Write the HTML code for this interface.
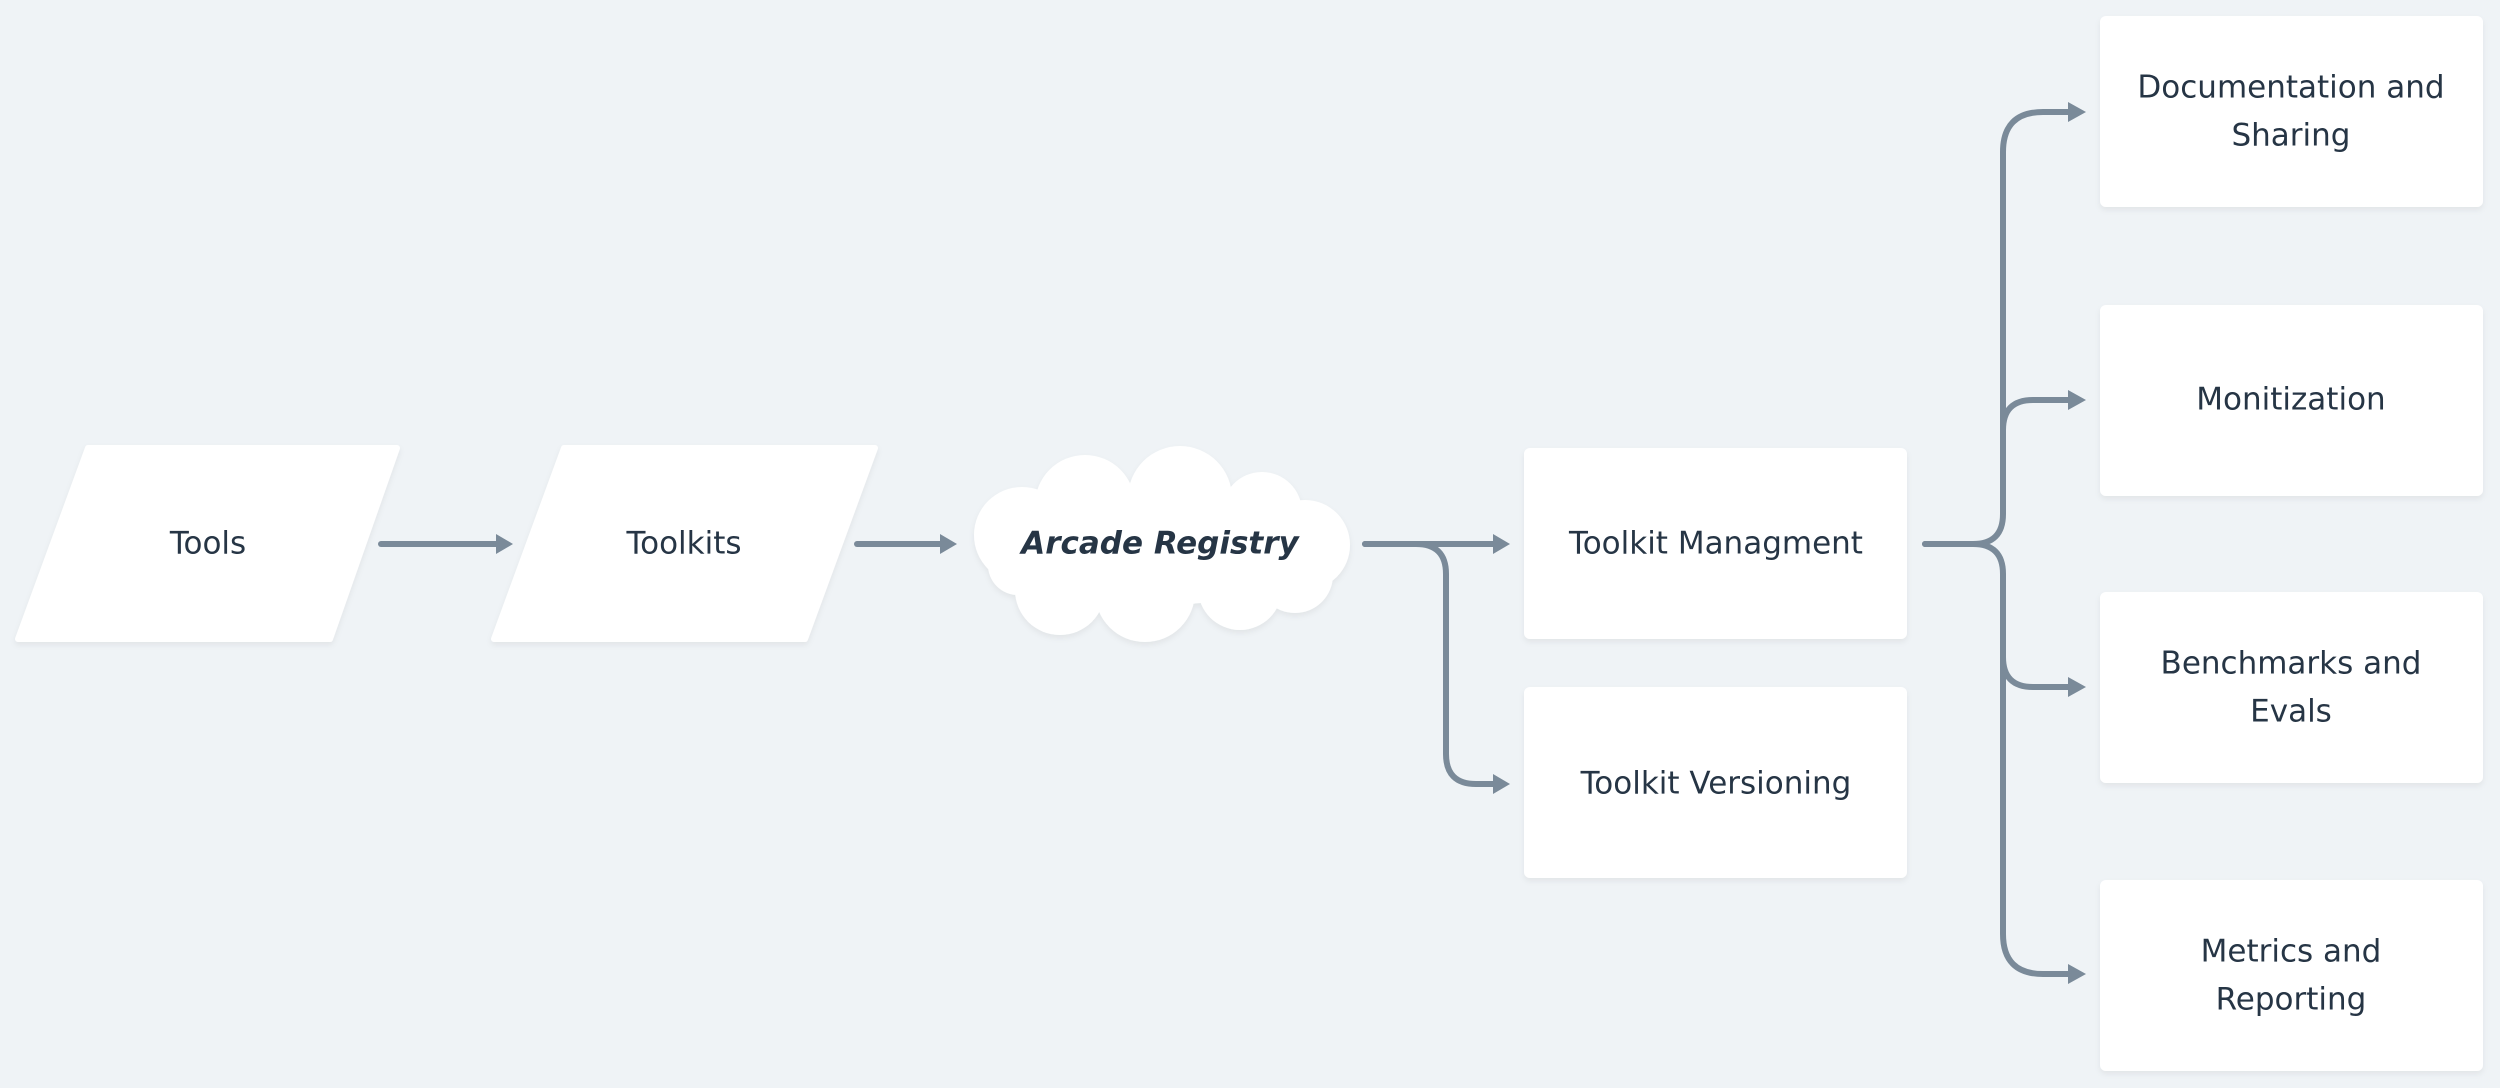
<!DOCTYPE html>
<html><head><meta charset="utf-8"><style>
html,body{margin:0;padding:0;background:#eff3f6;}
svg{display:block}
text{font-family:"DejaVu Sans","Liberation Sans",sans-serif;font-size:31px;fill:#263545;text-anchor:middle;dominant-baseline:middle;}
</style></head><body>
<svg width="2500" height="1088" viewBox="0 0 2500 1088" xmlns="http://www.w3.org/2000/svg">
<defs>
<filter id="s" x="-5%" y="-5%" width="110%" height="115%"><feDropShadow dx="0" dy="3" stdDeviation="3" flood-color="#000" flood-opacity="0.06"/></filter>
</defs>
<g fill="#fff" filter="url(#s)">
<path d="M88,448 L397,448 L330,639 L18,639 Z" stroke="#fff" stroke-width="6" stroke-linejoin="round"/>
<path d="M564,448 L875,448 L805,639 L494,639 Z" stroke="#fff" stroke-width="6" stroke-linejoin="round"/>
<g>
<circle cx="1085" cy="505" r="50"/><circle cx="1180" cy="498" r="52"/><circle cx="1262" cy="512" r="40"/>
<circle cx="1305" cy="545" r="45"/><circle cx="1022" cy="535" r="48"/><circle cx="1018" cy="565" r="30"/>
<circle cx="1060" cy="590" r="45"/><circle cx="1145" cy="592" r="50"/><circle cx="1240" cy="588" r="42"/>
<circle cx="1295" cy="575" r="38"/><ellipse cx="1160" cy="545" rx="160" ry="60"/>
</g>
<rect x="1524" y="448" width="383" height="191" rx="6"/>
<rect x="1524" y="687" width="383" height="191" rx="6"/>
<rect x="2100" y="16" width="383" height="191" rx="6"/>
<rect x="2100" y="305" width="383" height="191" rx="6"/>
<rect x="2100" y="592" width="383" height="191" rx="6"/>
<rect x="2100" y="880" width="383" height="191" rx="6"/>
</g>
<g stroke="#7a8a99" stroke-width="6" fill="none" stroke-linecap="round">
<path d="M381,544 L500,544"/>
<path d="M857,544 L944,544"/>
<path d="M1365,544 L1497,544"/>
<path d="M1365,544 L1416,544 Q1446,544 1446,574 L1446,754 Q1446,784 1476,784 L1497,784"/>
<path d="M1925,544 L1973,544 Q2003,544 2003,514 L2003,152 Q2003,112 2043,112 L2072,112"/>
<path d="M2003,430 Q2003,400 2033,400 L2072,400"/>
<path d="M1925,544 L1973,544 Q2003,544 2003,574 L2003,934 Q2003,974 2043,974 L2072,974"/>
<path d="M2003,657 Q2003,687 2033,687 L2072,687"/>
</g>
<g fill="#7a8a99">
<path d="M496,534 L513,544 L496,554 Z"/>
<path d="M940,534 L957,544 L940,554 Z"/>
<path d="M1493,534 L1510,544 L1493,554 Z"/>
<path d="M1493,774 L1510,784 L1493,794 Z"/>
<path d="M2068,102 L2086,112 L2068,122 Z"/>
<path d="M2068,390 L2086,400 L2068,410 Z"/>
<path d="M2068,677 L2086,687 L2068,697 Z"/>
<path d="M2068,964 L2086,974 L2068,984 Z"/>
</g>
<text x="208" y="545">Tools</text>
<text x="684" y="545">Toolkits</text>
<text x="1160" y="545" style="font-style:italic;font-weight:bold">Arcade Registry</text>
<text x="1716" y="545">Toolkit Managment</text>
<text x="1716" y="785">Toolkit Versioning</text>
<text x="2291" y="89">Documentation and</text>
<text x="2291" y="137">Sharing</text>
<text x="2291" y="401">Monitization</text>
<text x="2291" y="665">Benchmarks and</text>
<text x="2291" y="713">Evals</text>
<text x="2291" y="953">Metrics and</text>
<text x="2291" y="1001">Reporting</text>
</svg>
</body></html>
